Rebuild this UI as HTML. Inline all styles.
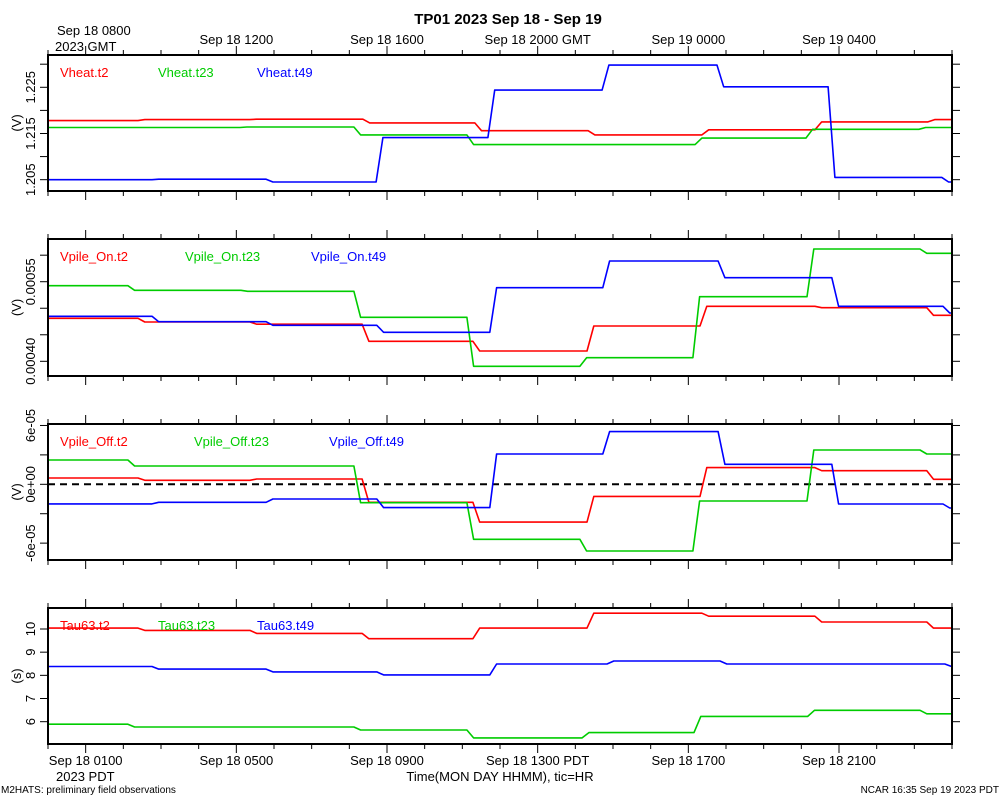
<!DOCTYPE html>
<html><head><meta charset="utf-8"><title>TP01 2023 Sep 18 - Sep 19</title>
<style>
html,body{margin:0;padding:0;background:#fff;}
svg{display:block;font-family:"Liberation Sans",sans-serif;}
</style></head>
<body>
<svg id="chart" width="1000" height="800" viewBox="0 0 1000 800" xmlns="http://www.w3.org/2000/svg">
<text x="508" y="24" font-size="15" font-weight="bold" text-anchor="middle">TP01 2023 Sep 18 - Sep 19</text>
<g id="axes"></g>
<text x="500" y="781" font-size="13" text-anchor="middle">Time(MON DAY HHMM), tic=HR</text>
<text x="56" y="781" font-size="13">2023 PDT</text>
<text x="57" y="35" font-size="13">Sep 18 0800</text>
<text x="55" y="51" font-size="13">2023 GMT</text>
<text x="1" y="793" font-size="10">M2HATS: preliminary field observations</text>
<text x="999" y="793" font-size="10" text-anchor="end">NCAR 16:35 Sep 19 2023 PDT</text>
</svg>
<script>
// time axis (hours PDT from Sep 18 0000)
const xDomain = [0, 24];
const pdtTickHours = [1, 5, 9, 13, 17, 21];
const pdtTickLabels = ["Sep 18 0100", "Sep 18 0500", "Sep 18 0900", "Sep 18 1300 PDT", "Sep 18 1700", "Sep 18 2100"];
const gmtTickHours = [5, 9, 13, 17, 21];
const gmtTickLabels = ["Sep 18 1200", "Sep 18 1600", "Sep 18 2000 GMT", "Sep 19 0000", "Sep 19 0400"];

// Panel 1: Vheat
const vheatLabels = ["Vheat.t2", "Vheat.t23", "Vheat.t49"];
const vheatT2Times = [0, 2.39, 5.36, 8.36, 11.33, 14.34, 17.36, 20.36, 23.36];
const vheatT2Vals = [1.2178, 1.2180, 1.2181, 1.2173, 1.2156, 1.2147, 1.2158, 1.2175, 1.2180];
const vheatT23Times = [0, 5.1, 8.12, 11.12, 17.18, 20.12, 23.12];
const vheatT23Vals = [1.2163, 1.2164, 1.2147, 1.2126, 1.2140, 1.2159, 1.2163];
const vheatT49Times = [0, 2.76, 5.79, 8.71, 11.68, 14.71, 17.76, 20.71, 23.73];
const vheatT49Vals = [1.2050, 1.2051, 1.2045, 1.2141, 1.2244, 1.2298, 1.2251, 1.2055, 1.2045];
const vheatMajorTicks = [1.205, 1.215, 1.225];
const vheatMajorLabels = ["1.205", "1.215", "1.225"];
const vheatMinorTicks = [1.21, 1.22, 1.23];

// Panel 2: Vpile_On
const vonLabels = ["Vpile_On.t2", "Vpile_On.t23", "Vpile_On.t49"];
const vonT2Times = [0, 2.39, 5.36, 8.34, 11.28, 14.31, 17.31, 20.36, 23.33];
const vonT2Vals = [0.000481, 0.000474, 0.000470, 0.0004377, 0.0004194, 0.0004665, 0.0005036, 0.000501, 0.0004867];
const vonT23Times = [0, 2.12, 5.12, 8.12, 11.12, 14.12, 17.12, 20.15, 23.15];
const vonT23Vals = [0.0005425, 0.0005338, 0.0005319, 0.000483, 0.0003906, 0.0004068, 0.0005217, 0.0006116, 0.0006035];
const vonT49Times = [0, 2.76, 5.79, 8.73, 11.73, 14.73, 17.79, 20.81, 23.76];
const vonT49Vals = [0.0004848, 0.0004746, 0.0004678, 0.0004547, 0.0005387, 0.000589, 0.0005576, 0.0005036, 0.000491];
const vonMajorTicks = [0.0004, 0.00055];
const vonMajorLabels = ["0.00040", "0.00055"];
const vonMinorTicks = [0.00045, 0.0005, 0.0006];

// Panel 3: Vpile_Off
const voffLabels = ["Vpile_Off.t2", "Vpile_Off.t23", "Vpile_Off.t49"];
const voffT2Times = [0, 2.39, 5.36, 8.34, 11.28, 14.31, 17.31, 20.36, 23.33];
const voffT2Vals = [6.4e-6, 4.1e-6, 5.4e-6, -1.84e-5, -3.85e-5, -1.23e-5, 1.7e-5, 1.39e-5, 5.1e-6];
const voffT23Times = [0, 2.12, 8.12, 11.12, 14.12, 17.12, 20.15, 23.15];
const voffT23Vals = [2.48e-5, 1.87e-5, -1.88e-5, -5.61e-5, -6.8e-5, -1.70e-5, 3.5e-5, 3.09e-5];
const voffT49Times = [0, 2.76, 5.79, 8.73, 11.73, 14.73, 17.79, 20.81, 23.76];
const voffT49Vals = [-2.0e-5, -1.84e-5, -1.5e-5, -2.38e-5, 3.09e-5, 5.37e-5, 2.04e-5, -2.01e-5, -2.42e-5];
const voffMajorTicks = [-6e-5, 0, 6e-5];
const voffMajorLabels = ["-6e-05", "0e+00", "6e-05"];
const voffMinorTicks = [-3e-5, 3e-5];

// Panel 4: Tau63
const tauLabels = ["Tau63.t2", "Tau63.t23", "Tau63.t49"];
const tauT2Times = [0, 2.39, 5.36, 8.34, 11.28, 14.31, 17.36, 20.36, 23.33];
const tauT2Vals = [10.04, 9.94, 9.81, 9.58, 10.04, 10.68, 10.55, 10.30, 10.04];
const tauT23Times = [0, 2.12, 8.12, 11.12, 14.18, 17.15, 20.17, 23.15];
const tauT23Vals = [5.89, 5.77, 5.64, 5.30, 5.53, 6.23, 6.49, 6.34];
const tauT49Times = [0, 2.76, 5.79, 8.73, 11.73, 14.84, 17.84, 23.81];
const tauT49Vals = [8.38, 8.27, 8.15, 8.02, 8.49, 8.62, 8.49, 8.38];
const tauMajorTicks = [6, 7, 8, 9, 10];
const tauMajorLabels = ["6", "7", "8", "9", "10"];
const tauMinorTicks = [];

const NS = "http://www.w3.org/2000/svg";
const svg = document.getElementById("chart");
const axesG = document.getElementById("axes");
const X0 = 48, X1 = 952;
function xScale(t){ return X0 + (t - xDomain[0]) / (xDomain[1] - xDomain[0]) * (X1 - X0); }
function mk(tag, attrs, parent){
  const e = document.createElementNS(NS, tag);
  for (const k in attrs) e.setAttribute(k, attrs[k]);
  (parent || svg).appendChild(e);
  return e;
}
const colors = ["#ff0000", "#00cc00", "#0000ff"];
const RAMP = 0.18;

const panels = [
  {name:"vheat", top:55, bot:191, yMin:1.20255, yMax:1.23199, unit:"(V)", labels:vheatLabels, legendX:[60,158,257],
   series:[[vheatT2Times,vheatT2Vals],[vheatT23Times,vheatT23Vals],[vheatT49Times,vheatT49Vals]],
   major:vheatMajorTicks, majorLab:vheatMajorLabels, minor:vheatMinorTicks},
  {name:"vpile-on", top:239, bot:376, yMin:0.0003723, yMax:0.0006305, unit:"(V)", labels:vonLabels, legendX:[60,185,311],
   series:[[vonT2Times,vonT2Vals],[vonT23Times,vonT23Vals],[vonT49Times,vonT49Vals]],
   major:vonMajorTicks, majorLab:vonMajorLabels, minor:vonMinorTicks},
  {name:"vpile-off", top:424, bot:560, yMin:-7.72e-5, yMax:6.15e-5, unit:"(V)", labels:voffLabels, legendX:[60,194,329],
   series:[[voffT2Times,voffT2Vals],[voffT23Times,voffT23Vals],[voffT49Times,voffT49Vals]],
   major:voffMajorTicks, majorLab:voffMajorLabels, minor:voffMinorTicks, zero:true},
  {name:"tau63", top:608, bot:744, yMin:5.037, yMax:10.906, unit:"(s)", labels:tauLabels, legendX:[60,158,257],
   series:[[tauT2Times,tauT2Vals],[tauT23Times,tauT23Vals],[tauT49Times,tauT49Vals]],
   major:tauMajorTicks, majorLab:tauMajorLabels, minor:tauMinorTicks}
];

panels.forEach((p, pi) => {
  const g = mk("g", {}, svg);
  
  
  const ys = v => p.bot - (v - p.yMin) / (p.yMax - p.yMin) * (p.bot - p.top);
  // x ticks top & bottom (hourly)
  for (let h = 0; h <= 24; h++) {
    const x = xScale(h);
    const major = (h % 4 === 1);
    const len = major ? 9 : 5;
    const t1 = mk("line", {x1:x, x2:x, y1:p.top - len, y2:p.top, stroke:"#000", "stroke-width":1}, g);
    
    
    const t2 = mk("line", {x1:x, x2:x, y1:p.bot, y2:p.bot + len, stroke:"#000", "stroke-width":1}, g);
    
    
  }
  // y ticks
  const yTicks = p.major.map(v => [v, 8]).concat(p.minor.map(v => [v, 8]));
  yTicks.forEach(([v, len]) => {
    const y = ys(v);
    const a = mk("line", {x1:X0 - len, x2:X0, y1:y, y2:y, stroke:"#000", "stroke-width":1}, g);
    
    
    const b = mk("line", {x1:X1, x2:X1 + len, y1:y, y2:y, stroke:"#000", "stroke-width":1}, g);
    
    
  });
  p.major.forEach((v, i) => {
    const y = ys(v);
    const t = mk("text", {x:0, y:0, "font-size":13, "text-anchor":"middle",
      transform:"translate(35," + y + ") rotate(-90)"}, g);
    t.textContent = p.majorLab[i];
    
    
  });
  const ul = mk("text", {x:0, y:0, "font-size":13, "text-anchor":"middle",
    transform:"translate(21," + ((p.top + p.bot) / 2) + ") rotate(-90)"}, g);
  ul.textContent = p.unit;
  
  
  if (p.zero) {
    const z = mk("line", {x1:X0, x2:X1, y1:ys(0), y2:ys(0), stroke:"#000", "stroke-width":2, "stroke-dasharray":"7,5"}, g);
    
    
  }
  // series
  p.series.forEach(([times, vals], si) => {
    let pts = [[xScale(times[0]), ys(vals[0])]];
    for (let i = 1; i < times.length; i++) {
      pts.push([xScale(times[i]), ys(vals[i - 1])]);
      pts.push([xScale(times[i] + RAMP), ys(vals[i])]);
    }
    pts.push([xScale(xDomain[1]), ys(vals[vals.length - 1])]);
    const pl = mk("polyline", {points:pts.map(q => q[0].toFixed(1) + "," + q[1].toFixed(1)).join(" "),
      fill:"none", stroke:colors[si], "stroke-width":1.6, "stroke-linejoin":"round"}, g);
    
    
    const lg = mk("text", {x:p.legendX[si], y:p.top + 22, "font-size":13, fill:colors[si]}, g);
    lg.textContent = p.labels[si];
    
    
  });
  const fr = mk("rect", {x:X0, y:p.top, width:X1 - X0, height:p.bot - p.top, fill:"none", stroke:"#000", "stroke-width":2}, g);
  
  
});

// bottom PDT labels
pdtTickHours.forEach((h, i) => {
  const t = mk("text", {x:xScale(h), y:765, "font-size":13, "text-anchor":"middle"}, axesG);
  t.textContent = pdtTickLabels[i];
  
  
});
// top GMT labels
gmtTickHours.forEach((h, i) => {
  const t = mk("text", {x:xScale(h), y:44, "font-size":13, "text-anchor":"middle"}, axesG);
  t.textContent = gmtTickLabels[i];
  
  
});
</script>
</body></html>
